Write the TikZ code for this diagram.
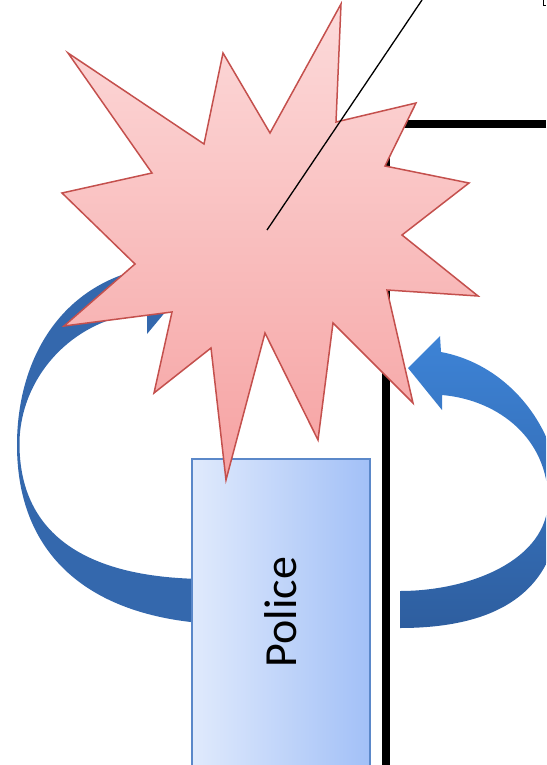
\documentclass[tikz,border=0pt]{standalone}
\usepackage{fontspec}
\setmainfont{Carlito}
\usepackage{tikz}
\definecolor{burstTop}{HTML}{FCDADA}
\definecolor{burstBottom}{HTML}{F6A2A2}
\definecolor{burstEdge}{HTML}{C4504D}
\definecolor{boxLeft}{HTML}{E0EAFC}
\definecolor{boxRight}{HTML}{A2C0F7}
\definecolor{boxEdge}{HTML}{5B88C9}
\definecolor{loopBlue}{HTML}{3468AD}
\definecolor{loopLight}{HTML}{3D83D6}
\definecolor{loopDark}{HTML}{2E5E9F}

\begin{document}
\begin{tikzpicture}[x=1pt, y=-1pt, line join=miter,
    band/.style={draw=none}]
  \useasboundingbox (0,0) rectangle (546,765);
  \clip (0,0) rectangle (546,765);
  \fill[band, loopBlue] (147,250) -- (182,292) -- (147,334) -- (147,312)
    .. controls (70,318) and (19,380) .. (19.5,445)
    .. controls (20,530) and (80,578) .. (205,579)
    -- (215,624)
    .. controls (95,618) and (17,560) .. (17,445)
    .. controls (17,360) and (60,285) .. (147,268)
    -- cycle;
  \shade[band, top color=loopLight, bottom color=loopDark] (408,368) -- (440,336) -- (441,352)
    .. controls (510,365) and (560,430) .. (560,500)
    .. controls (560,590) and (500,628) .. (400,628)
    -- (400,591)
    .. controls (470,591) and (548,560) .. (548,500)
    .. controls (548,440) and (500,400) .. (442,395)
    -- (442,410) -- cycle;
  \draw[line width=7.5] (546,124) -- (386,124) -- (386,765);
  \draw[line width=1.4] (543.5,0) -- (543.5,5.5) -- (546,5.5);
  \node[draw=boxEdge, line width=1.3, left color=boxLeft, right color=boxRight,
        minimum width=178, minimum height=312, inner sep=0,
        font=\fontsize{46}{50}\selectfont] (police) at (281,615)
    {\rotatebox{90}{\hspace{6pt}Police}};
  \shadedraw[draw=burstEdge, line width=1.5, top color=burstTop, bottom color=burstBottom]
    (341,4) -- (336,122) -- (416,103) -- (385,166) -- (469,183) -- (402,235)
    -- (478,296) -- (387,290) -- (413,403) -- (333,323) -- (318,440) -- (265,333)
    -- (226,480) -- (211,348) -- (154,393) -- (172,312) -- (64,326) -- (135,264)
    -- (62,193) -- (152,173) -- (68,53) -- (204,144) -- (223,53) -- (270,133) -- cycle;
  \coordinate (burst) at (267,230);
  \coordinate (lead) at (422,0);
  \draw[line width=1.3] (burst) -- (lead);
\end{tikzpicture}
\end{document}
